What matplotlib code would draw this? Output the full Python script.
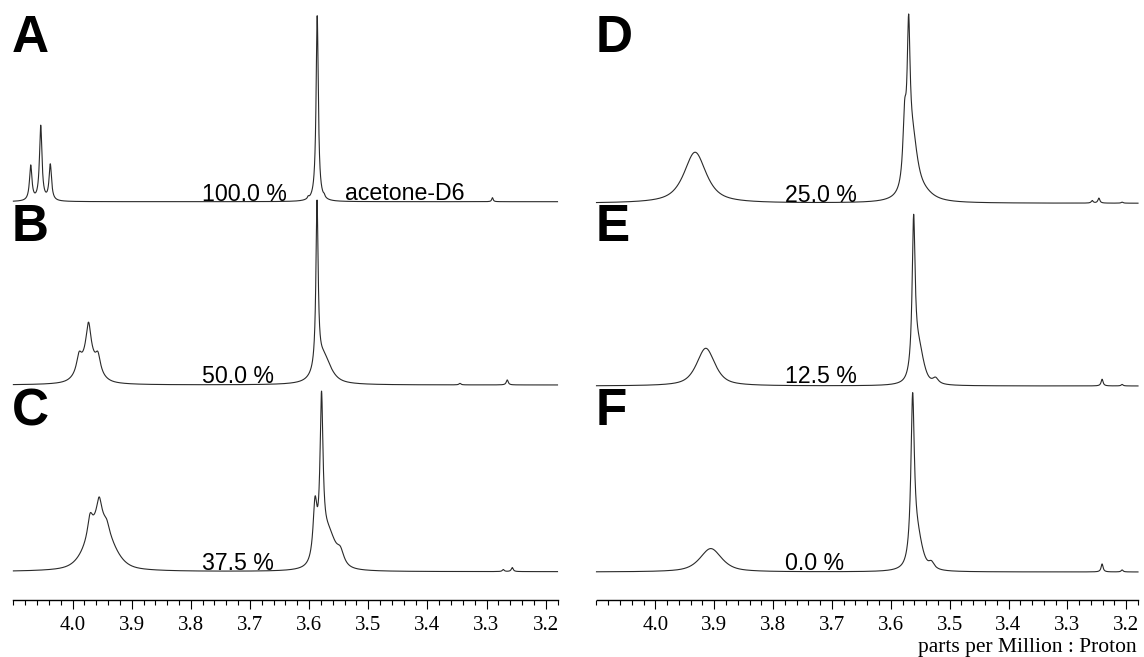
import numpy as np
import matplotlib
matplotlib.use("Agg")
import matplotlib.pyplot as plt
from matplotlib.ticker import FixedLocator, MultipleLocator, FormatStrFormatter

# chemical shift range shown on both columns (ppm)
ppm_left, ppm_right = 4.10, 3.18
major_ticks = [4.0, 3.9, 3.8, 3.7, 3.6, 3.5, 3.4, 3.3, 3.2]

panel_letters = ["A", "B", "C", "D", "E", "F"]
percent_labels = ["100.0 %", "50.0 %", "37.5 %", "25.0 %", "12.5 %", "0.0 %"]
solvent_label = "acetone-D6"
x_label = "parts per Million : Proton"

# peaks: centre (ppm), height, width (ppm), lorentzian fraction
peaks_A = [(4.0707, 35, 0.005, 1.0), (4.0538, 75, 0.005, 1.0), (4.0376, 36, 0.005, 1.0),
           (3.5863, 186, 0.0045, 1.0), (3.6015, 2, 0.003, 1.0), (3.5745, 2, 0.003, 1.0),
           (3.2900, 4, 0.003, 1.0)]
peaks_B = [(3.973, 25, 0.035, 0.6), (3.973, 35, 0.010, 1.0), (3.989, 16, 0.010, 1.0),
           (3.957, 16, 0.010, 1.0), (3.5866, 166, 0.0045, 1.0), (3.576, 28, 0.030, 0.8),
           (3.345, 1.5, 0.004, 1.0), (3.265, 5, 0.004, 1.0)]
peaks_C = [(3.954, 50, 0.050, 0.5), (3.955, 22, 0.010, 1.0), (3.9704, 20, 0.010, 1.0),
           (3.9421, 7, 0.010, 1.0), (3.579, 150, 0.006, 1.0), (3.590, 55, 0.008, 1.0),
           (3.568, 35, 0.030, 0.5), (3.547, 13, 0.015, 1.0),
           (3.2717, 2, 0.004, 1.0), (3.2565, 4, 0.004, 1.0)]
peaks_D = [(3.9325, 51, 0.045, 0.8), (3.5697, 135, 0.006, 1.0), (3.5765, 60, 0.007, 1.0),
           (3.563, 55, 0.020, 0.8), (3.545, 8, 0.040, 1.0),
           (3.2465, 5, 0.004, 1.0), (3.2578, 2.5, 0.004, 1.0), (3.207, 1, 0.004, 1.0)]
peaks_E = [(3.9143, 37.7, 0.037, 0.7), (3.5612, 150, 0.006, 1.0), (3.553, 35, 0.020, 0.5),
           (3.524, 6, 0.012, 1.0), (3.241, 6.7, 0.004, 1.0), (3.207, 1.5, 0.004, 1.0)]
peaks_F = [(3.9058, 23.4, 0.044, 0.7), (3.5629, 160, 0.007, 1.0), (3.555, 30, 0.020, 0.5),
           (3.531, 7, 0.012, 1.0), (3.241, 8, 0.004, 1.0), (3.207, 2, 0.004, 1.0)]

W, H = 1144, 657
fig = plt.figure(figsize=(W / 100, H / 100), dpi=100)


def spectrum(x, peaks):
    y = np.zeros_like(x)
    for c, h, w, eta in peaks:
        d = (x - c) / (w / 2)
        lor = 1 / (1 + d ** 2)
        gau = np.exp(-np.log(2) * d ** 2)
        y += h * (eta * lor + (1 - eta) * gau)
    return y


def column(x0, x1, spectra, offsets):
    axis_y = 600
    ax = fig.add_axes([x0 / W, (H - axis_y) / H, (x1 - x0) / W, axis_y / H])
    ax.set_xlim(ppm_left, ppm_right)
    ax.set_ylim(0, axis_y)
    x = np.linspace(ppm_left, ppm_right, 6000)
    for peaks, off in zip(spectra, offsets):
        ax.plot(x, spectrum(x, peaks) + off, color="#2a2a2a", lw=0.8, clip_on=False)
    for s in ["top", "left", "right"]:
        ax.spines[s].set_visible(False)
    ax.spines["bottom"].set_linewidth(1.0)
    ax.set_yticks([])
    ax.xaxis.set_major_locator(FixedLocator(major_ticks))
    ax.xaxis.set_minor_locator(MultipleLocator(0.02))
    ax.xaxis.set_major_formatter(FormatStrFormatter("%.1f"))
    ax.tick_params(axis="x", which="major", length=6.5, width=0.8, pad=5,
                   labelsize=15, direction="out")
    ax.tick_params(axis="x", which="minor", length=3.5, width=0.8, direction="out")
    for lab in ax.get_xticklabels():
        lab.set_family("Liberation Serif")
    ax.patch.set_visible(False)
    return ax


column(13.4, 557.5, [peaks_A, peaks_B, peaks_C], [398.3, 215, 28.3])
column(596.5, 1138, [peaks_D, peaks_E, peaks_F], [396.7, 214, 28])


def ftext(x, y, s, **kw):
    fig.text(x / W, 1 - y / H, s, va="baseline", **kw)


letter_xy = [(12, 52), (12, 241), (12, 425), (596, 52), (596, 241), (596, 425)]
for (lx, ly), let in zip(letter_xy, panel_letters):
    ftext(lx, ly, let, fontsize=37, fontweight="bold", family="Liberation Sans")

pct_xy = [(202, 200.7), (202, 382.7), (202, 570), (785, 201.7), (785, 383.3), (785, 570)]
for (px, py), lab in zip(pct_xy, percent_labels):
    ftext(px, py, lab, fontsize=16.7, family="Liberation Sans")

ftext(345, 200, solvent_label, fontsize=16.7, family="Liberation Sans")
ftext(1137, 651.7, x_label, fontsize=15.5, family="Liberation Serif", ha="right")

fig.savefig("out.png", dpi=100)
